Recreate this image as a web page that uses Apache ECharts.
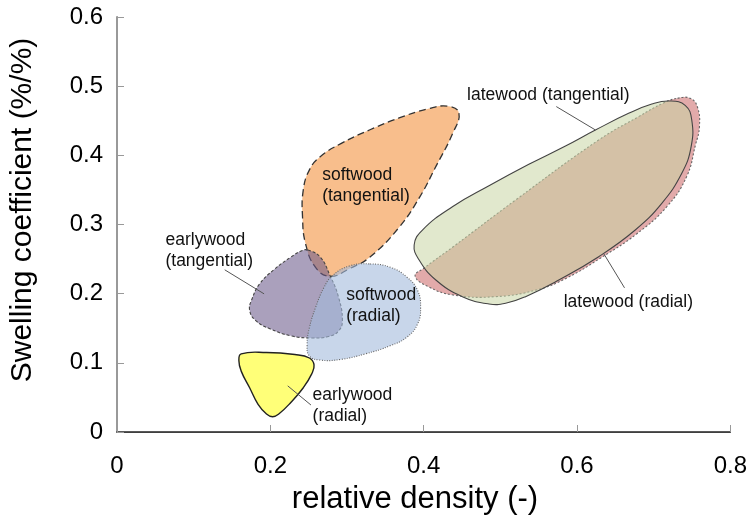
<!DOCTYPE html>
<html>
<head>
<meta charset="utf-8">
<script src="https://cdn.jsdelivr.net/npm/echarts@6/dist/echarts.min.js"></script>
<style>html,body{margin:0;padding:0;background:#fff}#c{width:750px;height:528px}</style>
</head>
<body>
<div id="c"></div>
<script>
// ---- tick labels ----
const xTickLabels = ['0', '0.2', '0.4', '0.6', '0.8'];
const yTickLabels = ['0', '0.1', '0.2', '0.3', '0.4', '0.5', '0.6'];
const xTitle = 'relative density (-)';
const yTitle = 'Swelling coefficient (%/%)';

// ---- region outlines [relative density, swelling coefficient] ----
const softwoodTangential = [
  [0.446,0.461],[0.438,0.432],[0.416,0.384],[0.395,0.340],[0.368,0.296],[0.330,0.253],
  [0.303,0.236],[0.278,0.225],[0.259,0.238],[0.246,0.272],[0.242,0.311],[0.243,0.350],
  [0.251,0.379],[0.265,0.398],[0.292,0.417],[0.330,0.437],[0.368,0.454],[0.405,0.467],[0.432,0.471]
];
const earlywoodTangential = [
  [0.249,0.263],[0.265,0.253],[0.278,0.226],[0.289,0.195],[0.294,0.161],[0.289,0.146],
  [0.276,0.138],[0.254,0.136],[0.227,0.139],[0.200,0.149],[0.181,0.161],[0.173,0.176],
  [0.176,0.192],[0.186,0.214],[0.205,0.235],[0.227,0.253],[0.241,0.262]
];
const softwoodRadial = [
  [0.330,0.243],[0.357,0.238],[0.378,0.224],[0.392,0.205],[0.396,0.180],[0.392,0.156],
  [0.378,0.137],[0.357,0.125],[0.324,0.113],[0.292,0.105],[0.265,0.104],[0.251,0.110],
  [0.248,0.127],[0.251,0.151],[0.259,0.180],[0.270,0.209],[0.281,0.226],[0.303,0.240]
];
const earlywoodRadial = [
  [0.162,0.113],[0.195,0.115],[0.232,0.112],[0.251,0.107],[0.257,0.097],[0.254,0.084],
  [0.243,0.064],[0.227,0.043],[0.211,0.026],[0.203,0.022],[0.195,0.026],[0.184,0.040],
  [0.173,0.064],[0.162,0.088],[0.159,0.103]
];
const latewoodRadial = [
  [0.7311,0.4825],[0.7476,0.4825],[0.7571,0.4699],[0.7597,0.4414],[0.7545,0.4149],[0.7428,0.3687],
  [0.7168,0.3253],[0.6777,0.2863],[0.6309,0.2516],[0.5867,0.2227],[0.5470,0.2053],[0.4927,0.1956],
  [0.4386,0.1981],[0.4061,0.2101],[0.3889,0.2255],[0.4007,0.2371],[0.4386,0.2679],[0.5199,0.3354],
  [0.6283,0.4222],[0.6803,0.4559],[0.7128,0.4757]
];
const latewoodTangential = [
  [0.7207,0.4786],[0.7411,0.4723],[0.7497,0.4511],[0.7489,0.4125],[0.7367,0.3740],[0.7106,0.3306],
  [0.6760,0.2920],[0.6283,0.2534],[0.5763,0.2198],[0.5329,0.1957],[0.5069,0.1861],[0.4852,0.1851],
  [0.4505,0.1957],[0.4159,0.2198],[0.3941,0.2487],[0.3876,0.2704],[0.3984,0.2920],[0.4375,0.3257],
  [0.4852,0.3560],[0.5372,0.3870],[0.5850,0.4135],[0.6240,0.4366],[0.6673,0.4607],[0.6976,0.4742]
];

// ---- annotations: [x, y] anchor (left edge, top of first line) ----
const labelTexts = ['latewood (tangential)', 'softwood\n(tangential)', 'earlywood\n(tangential)',
                    'softwood\n(radial)', 'latewood (radial)', 'earlywood\n(radial)'];
const labelPos = [[0.4566,0.5024],[0.2676,0.3867],[0.0632,0.2931],[0.2989,0.2133],[0.5826,0.2036],[0.2551,0.0687]];
// leader lines [[x1,y1],[x2,y2]]
const leaders = [
  [[0.573,0.4705],[0.624,0.4367]],
  [[0.1405,0.2345],[0.1919,0.1997]],
  [[0.662,0.2084],[0.635,0.2577]],
  [[0.2227,0.0667],[0.253,0.039]]
];

const shapes = [
  {name:'softwood (tangential)', pts:softwoodTangential, fill:'rgba(248,190,140,1)', stroke:'#333', lw:1.3, dash:[7,4]},
  {name:'earlywood (tangential)', pts:earlywoodTangential, fill:'rgba(108,91,140,0.58)', stroke:'#444', lw:1.1, dash:[3,2]},
  {name:'softwood (radial)', pts:softwoodRadial, fill:'rgba(163,187,220,0.6)', stroke:'#666', lw:1.1, dash:[1,1.5]},
  {name:'earlywood (radial)', pts:earlywoodRadial, fill:'rgba(255,255,120,1)', stroke:'#222', lw:1.4, dash:null},
  {name:'latewood (radial)', pts:latewoodRadial, fill:'rgba(226,170,170,1)', stroke:'#666', lw:1.1, dash:[2,2]},
  {name:'latewood (tangential)', pts:latewoodTangential, fill:'rgba(199,212,162,0.54)', stroke:'#444', lw:1.1, dash:null}
];

const chart = echarts.init(document.getElementById('c'), null, {renderer:'canvas'});
const series = shapes.map(s => ({
  type:'custom', name:s.name, silent:true,
  data:[[0,0]],
  renderItem:(params, api) => ({
    type:'polygon',
    shape:{points:s.pts.map(p => api.coord(p)), smooth:0.45},
    style:{fill:s.fill, stroke:s.stroke, lineWidth:s.lw, lineDash:s.dash}
  })
}));
leaders.forEach(l => series.push({
  type:'line', data:l, symbol:'none', silent:true,
  lineStyle:{color:'#555', width:1}, z:5
}));
series.push({
  type:'custom', silent:true, z:6,
  data:labelPos.map((p,i)=>[p[0],p[1],i]),
  renderItem:(params, api) => {
    const c = api.coord([api.value(0), api.value(1)]);
    return {type:'text', x:c[0], y:c[1],
      style:{text:labelTexts[api.value(2)], fill:'#111', font:'17.5px "Liberation Sans", Arial, sans-serif',
             textAlign:'left', textVerticalAlign:'top', lineHeight:21}};
  }
});

chart.setOption({
  animation:false,
  grid:{left:117, right:17, top:17, bottom:96},
  graphic:[
    {type:'text', x:415, y:499, style:{text:xTitle, font:'31px "Liberation Sans", Arial, sans-serif', fill:'#000', textAlign:'center', textVerticalAlign:'middle'}},
    {type:'text', x:23, y:210, rotation:Math.PI/2, style:{text:yTitle, font:'30px "Liberation Sans", Arial, sans-serif', fill:'#000', textAlign:'center', textVerticalAlign:'middle'}}
  ],
  xAxis:[{
    type:'value', min:0, max:0.8, interval:0.2, position:'bottom',
    axisLine:{show:true, lineStyle:{color:'#999', width:1}},
    axisTick:{show:true, inside:true, length:7, lineStyle:{color:'#999'}},
    splitLine:{show:false},
    axisLabel:{fontSize:24, color:'#000', margin:22, fontFamily:'Liberation Sans',
      formatter:(v)=>xTickLabels[Math.round(v/0.2)]}
  },{
    type:'value', min:0, max:0.8, interval:0.2, position:'top',
    axisLine:{show:true, lineStyle:{color:'#222', width:1.5}},
    axisTick:{show:false}, axisLabel:{show:false}, splitLine:{show:false}
  }],
  yAxis:[{
    type:'value', min:0, max:0.6, interval:0.1, position:'left',
    axisLine:{show:true, lineStyle:{color:'#999', width:1}},
    axisTick:{show:true, inside:true, length:7, lineStyle:{color:'#999'}},
    splitLine:{show:false},
    axisLabel:{fontSize:24, color:'#000', margin:14, fontFamily:'Liberation Sans',
      formatter:(v)=>yTickLabels[Math.round(v/0.1)]}
  },{
    type:'value', min:0, max:0.6, interval:0.1, position:'right',
    axisLine:{show:true, lineStyle:{color:'#999', width:2}},
    axisTick:{show:false}, axisLabel:{show:false}, splitLine:{show:false}
  }],
  series:series
});
</script>
</body>
</html>
